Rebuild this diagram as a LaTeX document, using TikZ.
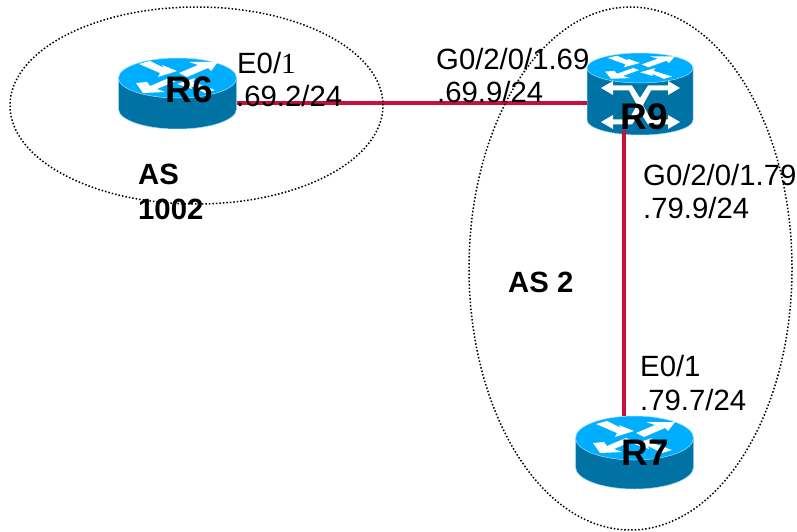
\documentclass[tikz,border=0pt]{standalone}
\usepackage{fontspec}
\setmainfont{Liberation Sans}
\newfontfamily\serifone{Liberation Serif}
\definecolor{linkred}{RGB}{200,16,62}
\definecolor{rtop}{RGB}{0,174,255}
\definecolor{rside}{RGB}{0,114,163}
\usetikzlibrary{shapes.geometric}
\tikzset{
 zone/.style={draw=black,line width=1.5pt,dotted,ellipse,inner sep=0pt},
 link/.style={draw=linkred,line width=4.2pt},
 lbl/.style={font=\fontsize{29.3}{33}\selectfont,anchor=west,inner sep=0pt,align=left,text=black},
 aslbl/.style={font=\fontsize{29.3}{33}\selectfont\bfseries,anchor=west,inner sep=0pt,align=left,text=black},
 rname/.style={font=\fontsize{37}{40}\selectfont\bfseries,inner sep=0pt,text=black},
 wht/.style={fill=white,draw=none}
}
% body: cx, top-centre y, rx, ry, side height
\newcommand{\drum}[5]{%
 \fill[rside,draw=rtop!45,line width=.5pt] (#1-#3,#2) -- (#1-#3,#2+#5) arc[start angle=180,end angle=360,x radius=#3,y radius=-#4] -- (#1+#3,#2) -- cycle;
 \fill[rtop,draw=white!60!rtop,line width=.5pt] (#1,#2) ellipse[x radius=#3,y radius=#4];
}
% flat router arrows on the top disc
\newcommand{\rarrows}[4]{%
 \begin{scope}[shift={(#1,#2)},xscale=#3,yscale=#4]
  \fill[wht] (-38,-14) -- (-27,-17) -- (-13,-10) -- (-15,-13) -- (0,-7) -- (-19,-1) -- (-17,-5) -- cycle;
  \fill[wht] (2,-5) -- (21,-13) -- (12,-16) -- (41,-16) -- (34,-7) -- (31,-10) -- (10,-1) -- cycle;
  \fill[wht] (-8,0) -- (-27,8) -- (-30,4) -- (-41,5) -- (-34,15) -- (-12,14) -- (-20,11) -- (-1,3) -- cycle;
  \fill[wht] (38,12) -- (28,15) -- (14,8) -- (15,11) -- (0,6) -- (18,0) -- (16,4) -- cycle;
 \end{scope}}
\begin{document}
\begin{tikzpicture}[x=1pt,y=-1pt]
\useasboundingbox (0,0) rectangle (797,532);
% routers
\drum{177.5}{78}{59}{20}{31}
\rarrows{177}{78}{1}{1}
\drum{640}{68}{53}{15}{52}
\rarrows{640}{68}{.85}{.72}
\fill[wht] (601,88) -- (613,81) -- (613,85.5) -- (632,85.5) -- (640,98) -- (648,85.5) -- (668,85.5) -- (668,81) -- (680,88) -- (668,95) -- (668,90.5) -- (651,90.5) -- (643,105) -- (651,119.5) -- (668,119.5) -- (668,115) -- (680,122) -- (668,129) -- (668,124.5) -- (648,124.5) -- (640,112) -- (632,124.5) -- (613,124.5) -- (613,129) -- (601,122) -- (613,115) -- (613,119.5) -- (629,119.5) -- (637,105) -- (629,90.5) -- (613,90.5) -- (613,95) -- cycle;
\drum{634.5}{438}{59}{22}{29}
\rarrows{634}{438}{1}{1}
% invisible named bodies for connectors
\node[inner sep=0pt,minimum width=119pt,minimum height=50pt] (r6) at (177.5,103) {};
\node[inner sep=0pt,minimum width=106pt,minimum height=54pt] (r9) at (640,103) {};
\node[inner sep=0pt,minimum width=119pt,minimum height=70pt] (r7) at (634.5,451) {};
\coordinate (vline) at (624,0);
\coordinate (r9s) at (vline |- r9.south);
\coordinate (r7n) at (vline |- r7.north);
% connectors
\draw[link] (r6.east) -- (r9.west);
\draw[link] (r9s) -- (r7n);
% zones
\node[zone,minimum width=373pt,minimum height=197pt] (as1002) at (196.5,105.5) {};
\node[zone,minimum width=323pt,minimum height=523pt] (as2) at (630.5,268.5) {};
% names
\node[rname] (n6) at (189,90) {R6};
\node[rname] (n9) at (644,117) {R9};
\node[rname] (n7) at (645,453) {R7};
% labels
\node[lbl] (l1) at (237,63) {E0/{\serifone 1}};
\node[lbl] (l2) at (236,96) {.69.2/24};
\node[lbl] (l3) at (436,59) {G0/2/0/1.69};
\node[lbl] (l4) at (437,92) {.69.9/24};
\node[lbl] (l5) at (643,175) {G0/2/0/1.79};
\node[lbl] (l6) at (643,208) {.79.9/24};
\node[lbl] (l7) at (640,366) {E0/1};
\node[lbl] (l8) at (640,400) {.79.7/24};
\node[aslbl] (a1) at (138,174) {AS};
\node[aslbl] (a2) at (138,209) {1002};
\node[aslbl] (a3) at (508,282) {AS 2};
\end{tikzpicture}
\end{document}
